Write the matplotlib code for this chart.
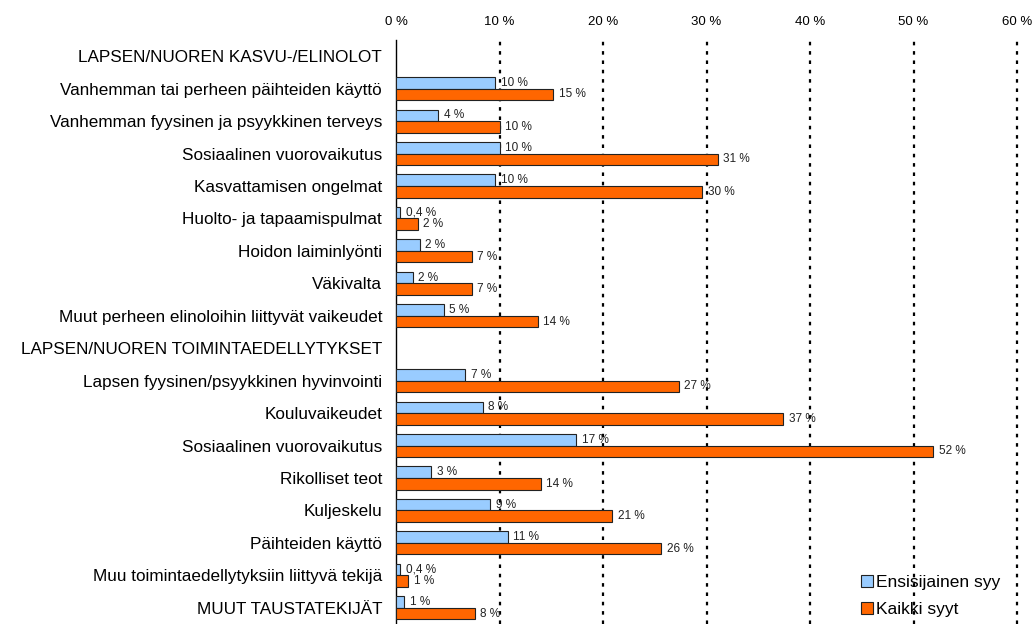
import matplotlib.pyplot as plt
import numpy as np

plt.rcParams['font.family'] = ['Liberation Sans', 'DejaVu Sans']

Categories = ['LAPSEN/NUOREN KASVU-/ELINOLOT',
              'Vanhemman tai perheen päihteiden käyttö',
              'Vanhemman fyysinen ja psyykkinen terveys',
              'Sosiaalinen vuorovaikutus',
              'Kasvattamisen ongelmat',
              'Huolto- ja tapaamispulmat',
              'Hoidon laiminlyönti',
              'Väkivalta',
              'Muut perheen elinoloihin liittyvät vaikeudet',
              'LAPSEN/NUOREN TOIMINTAEDELLYTYKSET',
              'Lapsen fyysinen/psyykkinen hyvinvointi',
              'Kouluvaikeudet',
              'Sosiaalinen vuorovaikutus',
              'Rikolliset teot',
              'Kuljeskelu',
              'Päihteiden käyttö',
              'Muu toimintaedellytyksiin liittyvä tekijä',
              'MUUT TAUSTATEKIJÄT']

# None = header row, no bars
Ensisijainen = [None, 9.6, 4.1, 10.0, 9.6, 0.4, 2.3, 1.6, 4.6,
                None, 6.7, 8.4, 17.4, 3.4, 9.1, 10.8, 0.4, 0.8]
Kaikki = [None, 15.2, 10.0, 31.1, 29.6, 2.1, 7.3, 7.3, 13.7,
          None, 27.3, 37.4, 51.9, 14.0, 20.9, 25.6, 1.2, 7.6]
SeriesNames = ['Ensisijainen syy', 'Kaikki syyt']
TickValues = [0, 10, 20, 30, 40, 50, 60]


def PctLabel(v):
    if v < 0.5:
        return ('%.1f %%' % v).replace('.', ',')
    return '%d %%' % int(round(v))


fig = plt.figure(figsize=(10.36, 6.24), dpi=100)
ax = fig.add_axes([396 / 1036, 0.0, (1017 - 396) / 1036, 584 / 624])

h = 0.355
rows = np.arange(len(Categories))
for i in rows:
    if Ensisijainen[i] is None:
        continue
    b = Ensisijainen[i]
    k = Kaikki[i]
    ax.barh(i - h / 2, b, height=h, color='#99CCFF', edgecolor='#222222', linewidth=0.8,
            label=SeriesNames[0] if i == 1 else None, zorder=3)
    ax.barh(i + h / 2, k, height=h, color='#FF6600', edgecolor='#222222', linewidth=0.8,
            label=SeriesNames[1] if i == 1 else None, zorder=3)
    ax.annotate(PctLabel(b), (b, i - h / 2), xytext=(4, 0), textcoords='offset points',
                va='center', ha='left', fontsize=8.5, color='#222222', zorder=4)
    ax.annotate(PctLabel(k), (k, i + h / 2), xytext=(4, 0), textcoords='offset points',
                va='center', ha='left', fontsize=8.5, color='#222222', zorder=4)

ax.set_xlim(0, 60)
ax.set_ylim(len(Categories) - 0.5, -0.5)

# dotted gridlines
for t in TickValues[1:]:
    ax.axvline(t, color='black', linewidth=1.6, linestyle=(0, (1.6, 2.6)), clip_on=False, zorder=1)

for s in ['top', 'right', 'bottom']:
    ax.spines[s].set_visible(False)
ax.spines['left'].set_color('black')
ax.spines['left'].set_linewidth(1)

ax.xaxis.tick_top()
ax.set_xticks(TickValues)
ax.set_xticklabels(['%d %%' % t for t in TickValues], fontsize=9.5)
ax.tick_params(axis='x', length=0, pad=8.5)
ax.set_yticks(rows)
ax.set_yticklabels(Categories, fontsize=12.3)
ax.tick_params(axis='y', length=0, pad=10)

leg = ax.legend(loc='lower left', bbox_to_anchor=(0.738, 0.0), frameon=False, fontsize=12.5,
                handlelength=0.7, handleheight=0.7, handletextpad=0.15, labelspacing=0.7,
                borderaxespad=0.0)

fig.savefig('out.png', dpi=100)
